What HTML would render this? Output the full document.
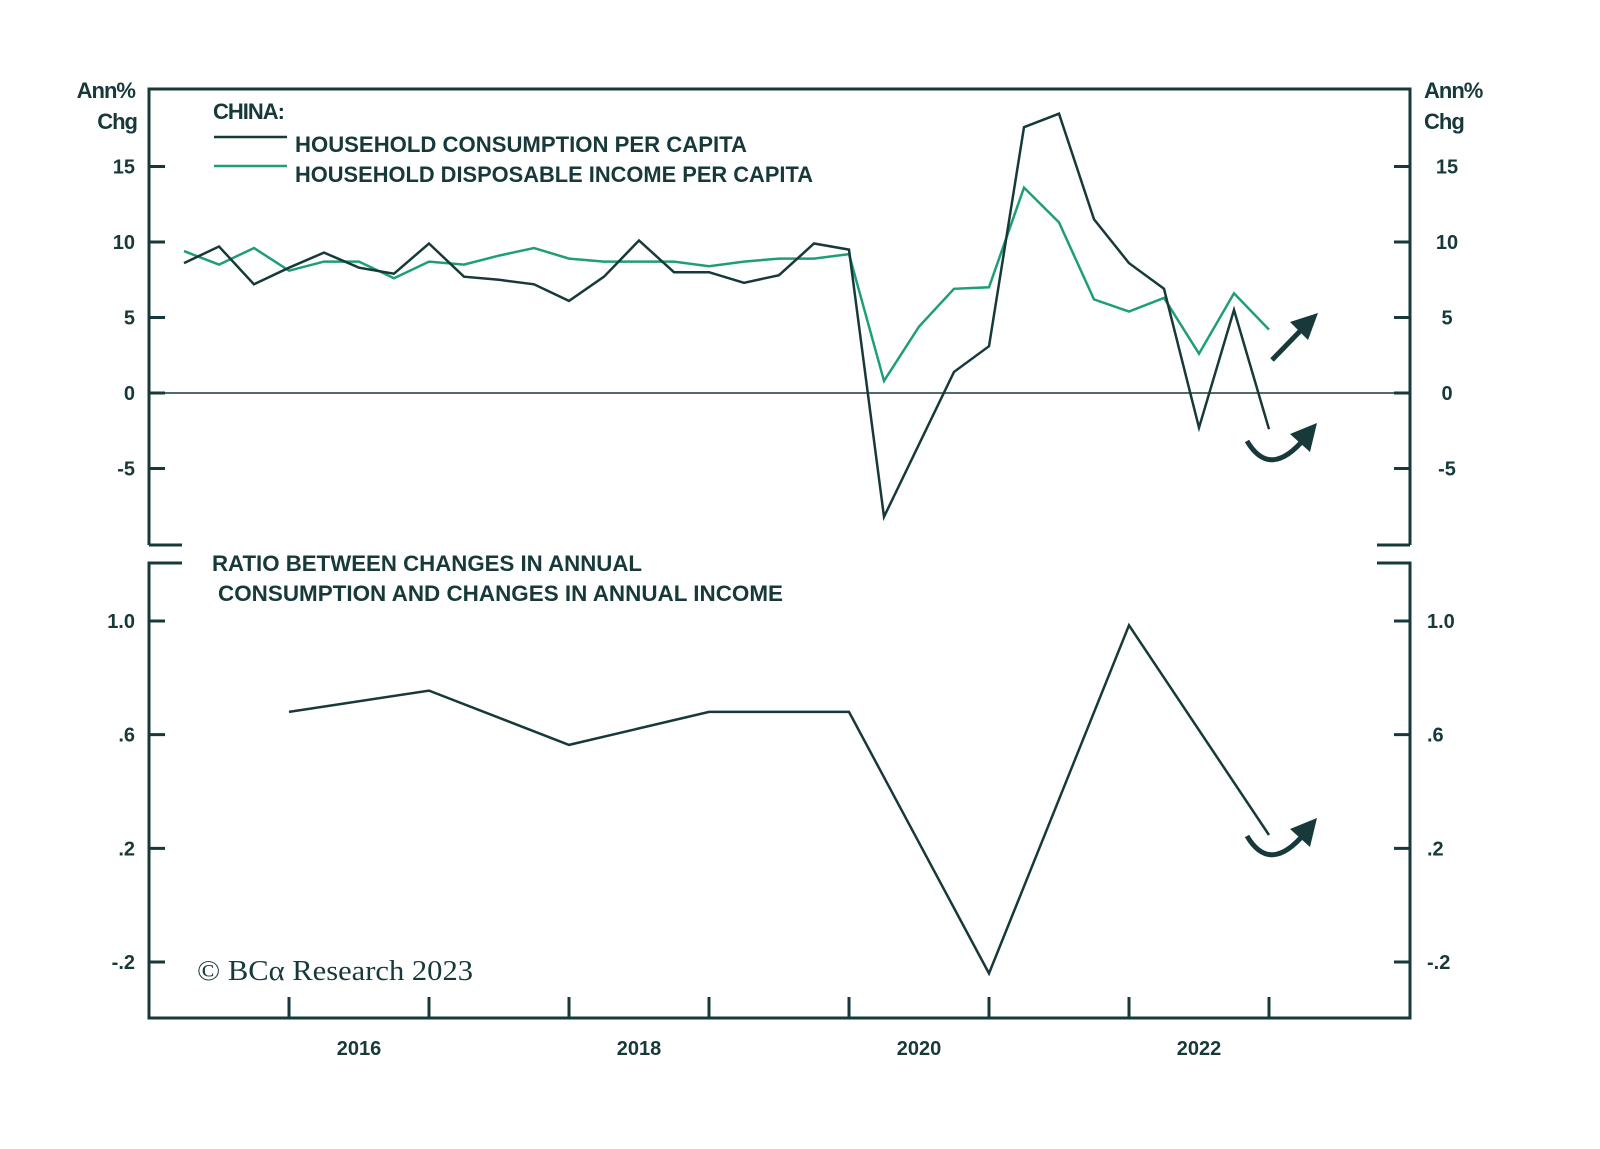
<!DOCTYPE html>
<html><head><meta charset="utf-8"><style>
html,body{margin:0;padding:0;background:#fff;}
svg{display:block;}
text{font-family:"Liberation Sans",sans-serif;fill:#17393a;}
</style></head><body>
<svg id="chart" width="1600" height="1149" viewBox="0 0 1600 1149" xmlns="http://www.w3.org/2000/svg">
<g id="frame"></g>
<g id="marks"></g>
<g>
<text x="213" y="119" font-size="22" font-weight="bold" letter-spacing="-1">CHINA:</text>
<line x1="214" y1="137" x2="287" y2="137" stroke="#17393a" stroke-width="2.5"/>
<text x="295" y="152" font-size="22" font-weight="bold" textLength="452" lengthAdjust="spacingAndGlyphs">HOUSEHOLD CONSUMPTION PER CAPITA</text>
<line x1="214" y1="166" x2="287" y2="166" stroke="#1e9e78" stroke-width="2.5"/>
<text x="295" y="182" font-size="22" font-weight="bold" textLength="518" lengthAdjust="spacingAndGlyphs">HOUSEHOLD DISPOSABLE INCOME PER CAPITA</text>
</g>
<g>
<text x="212" y="571" font-size="22" font-weight="bold" textLength="430" lengthAdjust="spacingAndGlyphs">RATIO BETWEEN CHANGES IN ANNUAL</text>
<text x="218" y="601" font-size="22" font-weight="bold" textLength="565" lengthAdjust="spacingAndGlyphs">CONSUMPTION AND CHANGES IN ANNUAL INCOME</text>
</g>
<text x="197" y="980" font-size="29" textLength="276" lengthAdjust="spacingAndGlyphs" style="font-family:'Liberation Serif',serif">© BCα Research 2023</text>
<g>
<text x="135" y="98" font-size="22" font-weight="bold" text-anchor="end" letter-spacing="-1">Ann%</text>
<text x="137" y="129" font-size="22" font-weight="bold" text-anchor="end" letter-spacing="-1">Chg</text>
<text x="1424" y="98" font-size="22" font-weight="bold" letter-spacing="-1">Ann%</text>
<text x="1424" y="129" font-size="22" font-weight="bold" letter-spacing="-1">Chg</text>
</g>
<g fill="none" stroke="#17393a" stroke-width="5">
<line x1="1272" y1="360" x2="1305" y2="326"/>
<polygon points="1318,313 1290,322 1308,340" fill="#17393a" stroke="none"/>
<path d="M1247,441 Q1270,480 1305,438"/>
<polygon points="1317,423 1290,434 1310,452" fill="#17393a" stroke="none"/>
<path d="M1247,836 Q1270,875 1305,833"/>
<polygon points="1317,818 1290,829 1310,847" fill="#17393a" stroke="none"/>
</g>
</svg>
<script>
const consumption = [8.6,9.7,7.2,8.3,9.3,8.3,7.9,9.9,7.7,7.5,7.2,6.1,7.7,10.1,8.0,8.0,7.3,7.8,9.9,9.5,-8.2,-3.4,1.4,3.1,17.6,18.5,11.5,8.6,6.9,-2.3,5.5,-2.4];
const income = [9.4,8.5,9.6,8.1,8.7,8.7,7.6,8.7,8.5,9.1,9.6,8.9,8.7,8.7,8.7,8.4,8.7,8.9,8.9,9.2,0.8,4.4,6.9,7.0,13.6,11.3,6.2,5.4,6.3,2.6,6.6,4.2];
const quarterStart = 2015.25;
const ratioYears = [2015,2016,2017,2018,2019,2020,2021,2022];
const ratio = [0.68,0.755,0.564,0.68,0.68,-0.24,0.985,0.247];
const topTicks = [15,10,5,0,-5];
const topTickLabels = ["15","10","5","0","-5"];
const botTicks = [1.0,0.6,0.2,-0.2];
const botTickLabels = ["1.0",".6",".2","-.2"];
const yearLabels = ["2016","2018","2020","2022"];
const yearLabelValues = [2016,2018,2020,2022];

const L=149,R=1410,T=89,TB=545,BT=563,B=1018;
const xT = t => 289 + 140*(t-2016);
const yTop = v => 393 - 15.1*v;
const yBot = v => 621 - 284.2*(v-1.0);
const C="#17393a", G="#1e9e78";
const NS="http://www.w3.org/2000/svg";
const frame=document.getElementById('frame'), marks=document.getElementById('marks');
function mk(parent,tag,attrs){const e=document.createElementNS(NS,tag);for(const k in attrs)e.setAttribute(k,attrs[k]);parent.appendChild(e);return e;}

let e;
e=mk(frame,'path',{d:`M${L},${TB} V${T} H${R} V${TB} M${L},${TB} h33 M${R},${TB} h-33`,fill:'none',stroke:C,'stroke-width':3});


e=mk(frame,'path',{d:`M${L+33},${BT} H${L} V${B} H${R} V${BT} h-33`,fill:'none',stroke:C,'stroke-width':3});


e=mk(frame,'line',{x1:L,x2:R,y1:yTop(0),y2:yTop(0),stroke:C,'stroke-width':1.5});



topTicks.forEach((v,i)=>{
  const y=yTop(v);
  e=mk(frame,'path',{d:`M${L},${y} h16 M${R},${y} h-16`,stroke:C,'stroke-width':3});
  
  
  e=mk(frame,'text',{x:135,y:y+7,'font-size':20,'font-weight':'bold','text-anchor':'end'});
  e.textContent=topTickLabels[i];
  
  
  e=mk(frame,'text',{x:1447,y:y+7,'font-size':20,'font-weight':'bold','text-anchor':'middle'});
  e.textContent=topTickLabels[i];
  
  
});
botTicks.forEach((v,i)=>{
  const y=yBot(v);
  e=mk(frame,'path',{d:`M${L},${y} h16 M${R},${y} h-16`,stroke:C,'stroke-width':3});
  
  
  e=mk(frame,'text',{x:135,y:y+7,'font-size':20,'font-weight':'bold','text-anchor':'end'});
  e.textContent=botTickLabels[i];
  
  
  e=mk(frame,'text',{x:1427,y:y+7,'font-size':20,'font-weight':'bold'});
  e.textContent=botTickLabels[i];
  
  
});
for(let yr=2016;yr<=2023;yr++){
  e=mk(frame,'line',{x1:xT(yr),x2:xT(yr),y1:B,y2:B-21,stroke:C,'stroke-width':3});
  
  
}
yearLabels.forEach((s,i)=>{
  e=mk(frame,'text',{x:xT(yearLabelValues[i]+0.5),y:1055,'font-size':20,'font-weight':'bold','text-anchor':'middle'});
  e.textContent=s;
  
  
});

function pts(arr,xf,yf){return arr.map((v,i)=>xf(i).toFixed(1)+','+yf(v).toFixed(1)).join(' ');}
e=mk(marks,'polyline',{points:pts(income,i=>xT(quarterStart+i*0.25),yTop),fill:'none',stroke:G,'stroke-width':2.5});


e=mk(marks,'polyline',{points:pts(consumption,i=>xT(quarterStart+i*0.25),yTop),fill:'none',stroke:C,'stroke-width':2.5});


e=mk(marks,'polyline',{points:pts(ratio,i=>xT(ratioYears[i]+1),yBot),fill:'none',stroke:C,'stroke-width':2.5});


</script>
</body></html>
